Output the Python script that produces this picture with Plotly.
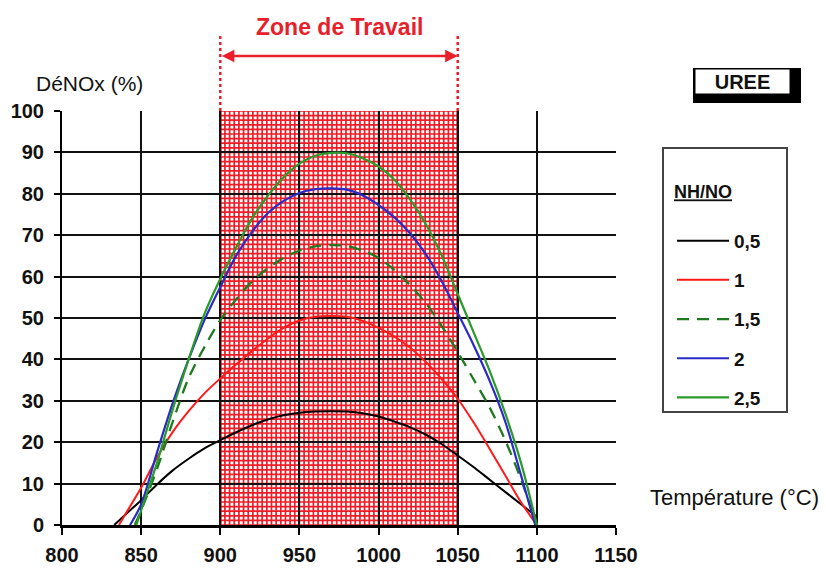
import plotly.graph_objects as go

# ---------------- data ----------------
series_names = ["0,5", "1", "1,5", "2", "2,5"]

t_05 = [833, 840, 850, 860, 870, 880, 890, 900, 910, 920, 930, 940, 950, 960, 970, 980, 990, 1000,
        1010, 1020, 1030, 1040, 1050, 1060, 1070, 1080, 1090, 1100]
v_05 = [0, 2.5, 6, 9.8, 13.2, 16, 18.5, 20.5, 22.4, 24.1, 25.5, 26.5, 27.1, 27.4, 27.5, 27.4, 27, 26.2,
        25, 23.6, 21.8, 19.5, 16.8, 14, 11, 8, 5, 2]

t_1 = [836, 840, 850, 860, 870, 880, 890, 900, 910, 920, 930, 940, 950, 960, 970, 980, 990, 1000,
       1010, 1020, 1030, 1040, 1050, 1060, 1070, 1080, 1090, 1100]
v_1 = [0, 2.6, 9, 16.3, 22.5, 27.5, 31.8, 35.4, 38.8, 42, 45, 47.6, 49.4, 50.3, 50.5, 50.3, 49.3, 47.6,
       45.5, 42.8, 39.3, 35.2, 30.5, 24.8, 18.5, 12, 5.5, 0]

t_15 = [846, 850, 860, 870, 880, 890, 900, 910, 920, 930, 940, 950, 960, 970, 980, 990, 1000,
        1010, 1020, 1030, 1040, 1050, 1060, 1070, 1080, 1090, 1100]
v_15 = [0, 3.5, 13.5, 25, 35.5, 43, 49.5, 54.5, 58.8, 62, 64.5, 66.3, 67.3, 67.6, 67.4, 66.3, 64.5,
        61.6, 57.9, 53.5, 48, 41.8, 35.2, 28.5, 20.5, 11, 0]

t_2 = [843, 850, 860, 870, 880, 890, 900, 910, 920, 930, 940, 950, 960, 970, 980, 990, 1000,
       1010, 1020, 1030, 1040, 1050, 1060, 1070, 1080, 1090, 1099]
v_2 = [0, 5, 17.5, 29.5, 40, 49.5, 57.5, 65, 70.8, 75.3, 78.3, 80.2, 81.1, 81.3, 81, 79.6, 77.3,
       74.3, 70.4, 65.3, 58.8, 51.2, 43.5, 35, 25, 12, 0]

t_25 = [847, 850, 860, 870, 880, 890, 900, 910, 920, 930, 940, 950, 960, 970, 980, 990, 1000,
        1010, 1020, 1030, 1040, 1050, 1060, 1070, 1080, 1090, 1100]
v_25 = [0, 3.5, 15, 28, 40, 51, 59.5, 67, 74, 79.5, 84, 87.3, 89.2, 89.9, 89.8, 88.6, 86.6,
        83.4, 78.6, 72.6, 65, 55.8, 46.6, 37.4, 27, 15, 0]

x_ticks = [800, 850, 900, 950, 1000, 1050, 1100, 1150]
y_ticks = [0, 10, 20, 30, 40, 50, 60, 70, 80, 90, 100]
zone_start, zone_end = 900, 1050
x_range = [800, 1150]
y_range = [0, 100]

# ---------------- layout geometry ----------------
W, H = 826, 573
ML, MR, MT, MB = 62, 210, 111, 48
PW, PH = W - ML - MR, H - MT - MB


def px_x(px):  # page pixel -> paper x
    return (px - ML) / PW


def px_y(py):  # page pixel -> paper y
    return (H - MB - py) / PH


def data_to_paper_x(v):
    return (v - x_range[0]) / (x_range[1] - x_range[0])


SANS = "Liberation Sans, Arial, sans-serif"

fig = go.Figure()

styles = [
    dict(color="#000000", width=2, dash="solid"),
    dict(color="#ff1a1a", width=2, dash="solid"),
    dict(color="#1f7a1f", width=2.3, dash="12px,8px"),
    dict(color="#2a2ac8", width=2.2, dash="solid"),
    dict(color="#2a9a2a", width=2.2, dash="solid"),
]
xs = [t_05, t_1, t_15, t_2, t_25]
ys = [v_05, v_1, v_15, v_2, v_25]
for i, (name, x, y, st) in enumerate(zip(series_names, xs, ys, styles)):
    fig.add_trace(go.Scatter(x=x, y=y, name=name, mode="lines",
                             line=dict(shape="spline", smoothing=0.9, **st),
                             legendgroup=f"g{i}", cliponaxis=False))

# hatched working zone (red grid on white) drawn below the gridlines
nx, ny = 51, 90
hx_step = (zone_end - zone_start) / nx
hy_step = (y_range[1] - y_range[0]) / ny
path = ""
for i in range(nx + 1):
    xv = zone_start + i * hx_step
    path += f"M{xv},{y_range[0]} L{xv},{y_range[1]} "
for j in range(ny + 1):
    yv = y_range[0] + j * hy_step
    path += f"M{zone_start},{yv} L{zone_end},{yv} "
fig.add_shape(type="path", path=path, xref="x", yref="y", layer="below",
              line=dict(color="#ee1c26", width=1.7))
for xv in (zone_start, zone_end):
    fig.add_shape(type="line", xref="x", yref="y", x0=xv, x1=xv, y0=y_range[0], y1=y_range[1],
                  layer="below", line=dict(color="#c00010", width=2.5))
    fig.add_shape(type="line", xref="x", yref="paper", x0=xv, x1=xv, y0=1.0, y1=px_y(33),
                  line=dict(color="#e8202a", width=2.5, dash="dot"))

# double arrow + zone title
arrow_len_px = (data_to_paper_x(zone_end) - data_to_paper_x(zone_start)) * PW
fig.add_annotation(x=data_to_paper_x(zone_end), y=px_y(56), xref="paper", yref="paper",
                   ax=-arrow_len_px, ay=0, axref="pixel", ayref="pixel",
                   text="", showarrow=True, arrowside="end+start",
                   arrowhead=2, arrowsize=1.0, arrowwidth=2.5, arrowcolor="#e8202a")
fig.add_annotation(x=(zone_start + zone_end) / 2, y=px_y(27), xref="x", yref="paper",
                   xanchor="center", yanchor="middle",
                   text="<b>Zone de Travail</b>", showarrow=False,
                   font=dict(family=SANS, size=23, color="#e8202a"))

# axis titles
fig.add_annotation(x=px_x(34), y=px_y(84), xref="paper", yref="paper",
                   xanchor="left", yanchor="middle",
                   text="DéNOx (%)", showarrow=False,
                   font=dict(family=SANS, size=21, color="#111"))
fig.add_annotation(x=px_x(648), y=px_y(497), xref="paper", yref="paper",
                   xanchor="left", yanchor="middle",
                   text="Température (°C)", showarrow=False,
                   font=dict(family=SANS, size=22, color="#111"))

# UREE box with heavy shadow
fig.add_shape(type="rect", xref="paper", yref="paper",
              x0=px_x(693), x1=px_x(801), y0=px_y(103), y1=px_y(68),
              fillcolor="#000", line=dict(width=0), layer="below")
fig.add_annotation(x=px_x(742), y=px_y(81.5), xref="paper", yref="paper",
                   xanchor="center", yanchor="middle",
                   text="<b>UREE</b>", showarrow=False,
                   width=94, height=24, bgcolor="#ffffff",
                   bordercolor="#000", borderwidth=1.5, borderpad=0,
                   font=dict(family=SANS, size=20, color="#111"))

# legend frame
fig.add_shape(type="rect", xref="paper", yref="paper",
              x0=px_x(663), x1=px_x(787), y0=px_y(412), y1=px_y(148),
              fillcolor="rgba(0,0,0,0)", line=dict(color="#444", width=2), layer="below")

fig.update_layout(
    width=W, height=H,
    margin=dict(l=ML, r=MR, t=MT, b=MB, autoexpand=False),
    paper_bgcolor="white", plot_bgcolor="white",
    showlegend=True,
    legend=dict(x=px_x(672), y=px_y(175), xanchor="left", yanchor="top",
                bgcolor="rgba(0,0,0,0)", borderwidth=0,
                title=dict(text="<b><u>NH/NO</u></b><br> ",
                           font=dict(family=SANS, size=18, color="#111")),
                font=dict(family=SANS, size=19, color="#111", weight="bold"),
                tracegroupgap=11.5, itemwidth=52, traceorder="grouped"),
    xaxis=dict(range=x_range, tickvals=x_ticks, ticktext=[str(v) for v in x_ticks],
               showgrid=True, gridcolor="#111", gridwidth=1.6,
               showline=True, linecolor="#000", linewidth=3,
               ticks="outside", ticklen=7, tickwidth=2, tickcolor="#000",
               ticklabelstandoff=3, automargin=False,
               tickfont=dict(family=SANS, size=20, color="#111", weight="bold"),
               zeroline=False, fixedrange=True),
    yaxis=dict(range=y_range, tickvals=y_ticks,
               showgrid=True, gridcolor="#111", gridwidth=2,
               showline=True, linecolor="#000", linewidth=2,
               ticks="outside", ticklen=6, tickwidth=2, tickcolor="#000",
               ticklabelstandoff=6, automargin=False,
               tickfont=dict(family=SANS, size=20, color="#111", weight="bold"),
               zeroline=False, fixedrange=True),
)

fig.write_html("out.html", config={"displayModeBar": False},
               post_script="document.body.style.margin='0';")
